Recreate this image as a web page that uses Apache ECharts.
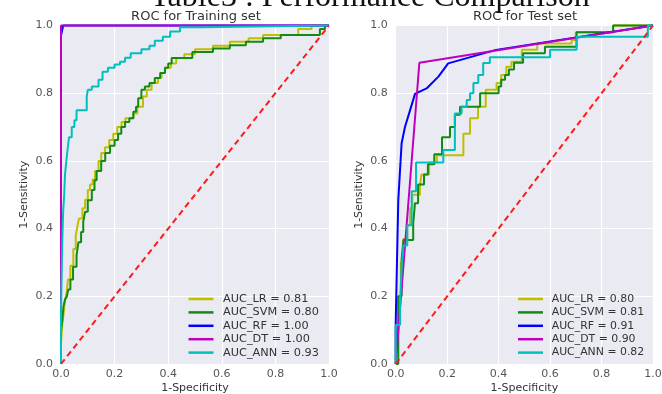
<!DOCTYPE html>
<html>
<head>
<meta charset="utf-8">
<script src="https://cdn.jsdelivr.net/npm/echarts@6/dist/echarts.min.js"></script>
<style>html,body{margin:0;padding:0;background:#fff;}#c{width:662px;height:394px;}</style>
</head>
<body>
<div id="c"></div>
<script>
// ---- data ----
const panelTitles = ['ROC for Training set', 'ROC for Test set'];
const pageTitle = 'Table3 : Performance Comparison';
const tickLabels = ['0.0', '0.2', '0.4', '0.6', '0.8', '1.0'];
const trainNames = ['AUC_LR = 0.81', 'AUC_SVM = 0.80', 'AUC_RF = 1.00', 'AUC_DT = 1.00', 'AUC_ANN = 0.93'];
const testNames = ['AUC_LR = 0.80', 'AUC_SVM = 0.81', 'AUC_RF = 0.91', 'AUC_DT = 0.90', 'AUC_ANN = 0.82'];

// step curves: points are [fpr, tpr] corners (rise happens at each point's x)
const trainLR = [[0,0],[0.005,0.06],[0.01,0.12],[0.015,0.15],[0.021,0.19],[0.026,0.21],[0.035,0.25],[0.046,0.29],[0.055,0.34],[0.062,0.38],[0.067,0.41],[0.08,0.43],[0.09,0.46],[0.1,0.485],[0.108,0.514],[0.118,0.53],[0.127,0.545],[0.14,0.57],[0.15,0.6],[0.164,0.623],[0.18,0.64],[0.195,0.662],[0.21,0.68],[0.226,0.70],[0.24,0.715],[0.27,0.726],[0.285,0.74],[0.306,0.76],[0.32,0.79],[0.338,0.81],[0.362,0.83],[0.375,0.845],[0.388,0.86],[0.41,0.875],[0.43,0.888],[0.46,0.904],[0.5,0.915],[0.567,0.93],[0.63,0.94],[0.70,0.952],[0.754,0.962],[0.885,0.972],[0.935,0.99],[1,1]];
const trainSVM = [[0,0],[0,0.05],[0.005,0.1],[0.009,0.13],[0.015,0.17],[0.022,0.19],[0.027,0.2],[0.035,0.22],[0.045,0.25],[0.058,0.287],[0.065,0.32],[0.075,0.36],[0.083,0.39],[0.09,0.42],[0.1,0.45],[0.115,0.484],[0.125,0.514],[0.133,0.543],[0.15,0.57],[0.165,0.6],[0.183,0.623],[0.2,0.645],[0.213,0.662],[0.225,0.68],[0.239,0.70],[0.255,0.715],[0.27,0.726],[0.28,0.745],[0.288,0.76],[0.3,0.785],[0.313,0.81],[0.33,0.82],[0.35,0.83],[0.37,0.845],[0.388,0.86],[0.4,0.875],[0.413,0.888],[0.49,0.904],[0.567,0.922],[0.63,0.932],[0.69,0.942],[0.754,0.952],[0.82,0.962],[0.966,0.972],[0.985,0.99],[1,1]];
const trainRF = [[0,0],[0,0.97],[0.008,1],[1,1]];
const trainDT = [[0,0],[0,1],[1,1]];
const trainANN = [[0,0],[0.002,0.15],[0.005,0.24],[0.008,0.37],[0.012,0.45],[0.015,0.5],[0.02,0.56],[0.024,0.6],[0.03,0.63],[0.04,0.67],[0.05,0.7],[0.058,0.72],[0.096,0.75],[0.1,0.79],[0.115,0.81],[0.14,0.82],[0.155,0.84],[0.175,0.863],[0.2,0.875],[0.22,0.885],[0.239,0.893],[0.26,0.905],[0.3,0.918],[0.33,0.93],[0.35,0.94],[0.38,0.955],[0.407,0.967],[0.444,0.982],[0.52,0.995],[1,1]];

const testLR = [[0,0],[0.01,0.1],[0.02,0.2],[0.03,0.3],[0.045,0.37],[0.055,0.41],[0.065,0.46],[0.094,0.5],[0.1,0.524],[0.13,0.56],[0.16,0.595],[0.263,0.617],[0.289,0.68],[0.32,0.726],[0.35,0.76],[0.392,0.81],[0.41,0.83],[0.43,0.854],[0.45,0.878],[0.49,0.893],[0.55,0.928],[0.684,0.947],[0.7,0.957],[0.845,0.98],[1,1]];
const testSVM = [[0,0],[0.01,0],[0.023,0.2],[0.03,0.31],[0.068,0.366],[0.075,0.416],[0.087,0.475],[0.11,0.53],[0.125,0.56],[0.15,0.59],[0.18,0.62],[0.211,0.67],[0.23,0.70],[0.25,0.736],[0.328,0.76],[0.40,0.80],[0.41,0.82],[0.425,0.84],[0.44,0.854],[0.46,0.87],[0.495,0.89],[0.58,0.918],[0.703,0.937],[0.845,0.98],[1,1]];
const testRF = [[0,0],[0,0.12],[0.01,0.484],[0.023,0.652],[0.036,0.70],[0.056,0.75],[0.075,0.798],[0.12,0.814],[0.166,0.849],[0.204,0.888],[0.39,0.928],[1,1]];
const testDT = [[0,0],[0.092,0.89],[1,1]];
const testANN = [[0,0],[0.017,0.115],[0.023,0.18],[0.03,0.28],[0.045,0.35],[0.062,0.41],[0.079,0.51],[0.185,0.595],[0.23,0.632],[0.256,0.74],[0.276,0.76],[0.289,0.78],[0.302,0.80],[0.321,0.83],[0.34,0.854],[0.366,0.889],[0.6,0.906],[0.703,0.928],[0.98,0.967],[1,1]];
const chance = [[0,0],[1,1]];

// ---- styling ----
const colors = ['#bfbf00', '#138a13', '#0000ff', '#bf00bf', '#00bfbf'];
const FONT = 'DejaVu Sans';
const stepFlags = [true, true, false, false, true];

const chart = echarts.init(document.getElementById('c'), null, {renderer: 'canvas'});

function axisX(gi) {
  return {
    type: 'value', gridIndex: gi, min: 0, max: 1, interval: 0.2,
    name: '1-Specificity', nameLocation: 'middle', nameGap: 19, nameMoveOverlap: false,
    nameTextStyle: {fontFamily: FONT, fontSize: 11, color: '#333'},
    axisLine: {show: false}, axisTick: {show: false},
    axisLabel: {fontFamily: FONT, fontSize: 11, color: '#555', margin: 5,
      formatter: v => tickLabels[Math.round(v / 0.2)]},
    splitLine: {show: true, lineStyle: {color: '#ffffff', width: 1.2}}
  };
}
function axisY(gi) {
  return {
    type: 'value', gridIndex: gi, min: 0, max: 1, interval: 0.2,
    name: '1-Sensitivity', nameLocation: 'middle', nameGap: 31, nameRotate: 90,
    nameTextStyle: {fontFamily: FONT, fontSize: 11, color: '#333'},
    axisLine: {show: false}, axisTick: {show: false},
    axisLabel: {fontFamily: FONT, fontSize: 11, color: '#555', margin: 8,
      formatter: v => tickLabels[Math.round(v / 0.2)]},
    splitLine: {show: true, lineStyle: {color: '#ffffff', width: 1.2}}
  };
}

const series = [];
function addPanel(gi, names, sets) {
  sets.forEach((d, i) => {
    series.push({
      name: names[i], type: 'line', xAxisIndex: gi, yAxisIndex: gi,
      data: d, showSymbol: false, symbol: 'none', clip: false,
      step: stepFlags[i] ? 'start' : false,
      color: colors[i],
      lineStyle: {color: colors[i], width: 2},
      z: 3 + i, animation: false
    });
  });
  series.push({
    name: 'chance' + gi, type: 'line', xAxisIndex: gi, yAxisIndex: gi,
    data: chance, showSymbol: false, symbol: 'none', clip: false,
    lineStyle: {color: '#ff1a1a', width: 2, type: [6, 4]}, z: 10, animation: false
  });
}
addPanel(0, trainNames, [trainLR, trainSVM, trainRF, trainDT, trainANN]);
addPanel(1, testNames, [testLR, testSVM, testRF, testDT, testANN]);

function legend(left, names, fs, pad) {
  return {
    data: names, orient: 'vertical', left: left, top: 292.5, padding: 0,
    icon: 'rect', itemWidth: 25, itemHeight: 2.5, itemGap: 0.4,
    selectedMode: false,
    textStyle: {fontFamily: FONT, fontSize: fs, color: '#333', lineHeight: 13, padding: [0, 0, 0, pad]}
  };
}

chart.setOption({
  animation: false,
  backgroundColor: '#ffffff',
  grid: [
    {left: 61, right: 333, top: 25.5, bottom: 30, show: true, backgroundColor: '#eaeaf2', borderWidth: 0, containLabel: false, outerBoundsMode: 'none'},
    {left: 395.7, right: 9, top: 25.5, bottom: 30, show: true, backgroundColor: '#eaeaf2', borderWidth: 0, containLabel: false, outerBoundsMode: 'none'}
  ],
  xAxis: [axisX(0), axisX(1)],
  yAxis: [axisY(0), axisY(1)],
  legend: [legend(188.5, trainNames, 11.3, 4.5), legend(518, testNames, 10.9, 3.7)],
  graphic: [
    {type: 'text', x: 196, y: 17, silent: true,
      style: {text: panelTitles[0], fill: '#333', font: '13px "DejaVu Sans"', textAlign: 'center', textVerticalAlign: 'middle'}},
    {type: 'text', x: 525, y: 17, silent: true,
      style: {text: panelTitles[1], fill: '#333', font: '13px "DejaVu Sans"', textAlign: 'center', textVerticalAlign: 'middle'}},
    {type: 'text', x: 370, y: 14, silent: true, z: 0,
      style: {text: pageTitle, fill: '#111', font: '32px "Liberation Serif"', textAlign: 'center', textVerticalAlign: 'bottom'}}
  ],
  series: series
});
</script>
</body>
</html>
